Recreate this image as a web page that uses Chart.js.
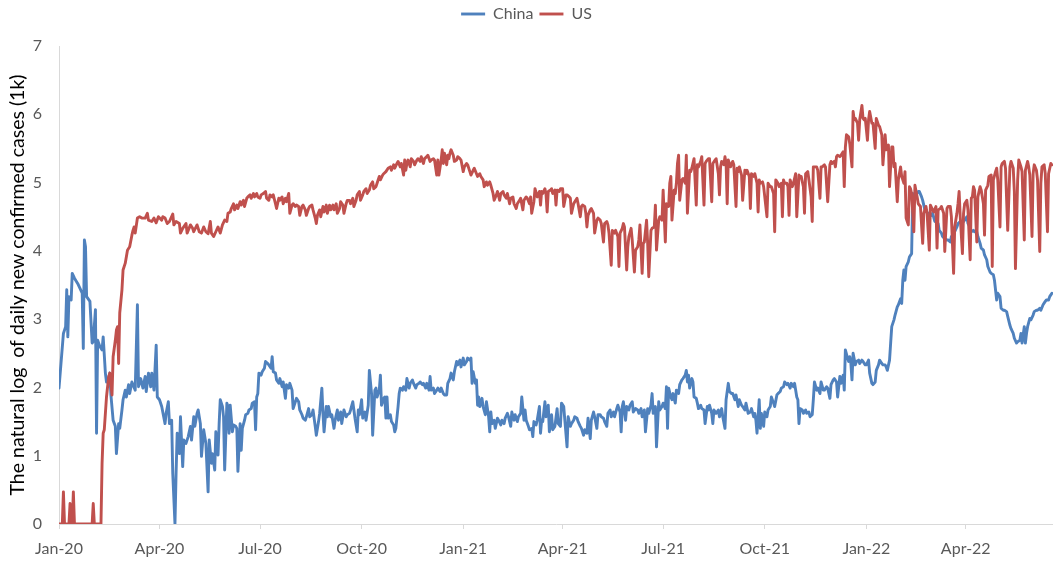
<!DOCTYPE html>
<html>
<head>
<meta charset="utf-8">
<title>China and US daily new confirmed cases (log scale)</title>
<script src="https://cdn.jsdelivr.net/npm/chart.js@4/dist/chart.umd.min.js"></script>
<style>
  html, body { margin: 0; padding: 0; background: #ffffff; }
  #wrap { width: 1053px; height: 561px; position: relative; }
</style>
</head>
<body>
<div id="wrap"><canvas id="chart"></canvas></div>
<script>
// Day index = days since 22 Jan 2020; each entry is [day, ln(daily new cases)].
const china2020 = [[0,1.99],[4,2.79],[6,2.89],[7,3.43],[8,2.74],[9,3.33],[11,3.28],[12,3.67],[14,3.60],[17,3.52],[19,3.45],[21,3.38],[22,2.57],[23,4.16],[24,4.06],[25,3.33],[28,3.26],[30,2.65],[31,2.67],[33,3.14],[34,1.33],[35,2.69],[37,2.60],[39,2.55],[40,2.74],[42,2.21],[43,2.08],[45,2.13],[46,2.21],[47,1.89],[49,1.52],[51,1.43],[52,1.03],[54,1.47],[55,1.40],[57,1.67],[58,1.82],[60,1.96],[61,1.86],[63,2.04],[64,1.91],[66,2.08],[69,1.96],[71,3.21],[72,2.01],[74,2.13],[76,1.99],[78,2.16],[79,1.94],[81,2.21],[83,2.01],[84,2.21],[86,1.96],[88,2.62],[89,1.86],[91,1.82],[93,1.72],[96,1.47],[97,1.62],[99,1.79],[100,1.47],[102,1.52],[103,0.74],[105,0],[106,0.74],[107,1.33],[109,1.03],[110,1.57],[112,0.84],[113,1.23],[115,1.18],[117,1.28],[119,1.43],[120,1.23],[122,1.57],[123,1.43],[125,1.62],[126,1.67],[128,1.47],[129,0.99],[131,1.38],[133,1.18],[135,0.47],[136,1.23],[138,0.89],[139,1.03],[141,0.79],[142,1.35],[144,1.01],[145,1.47],[146,1.82],[148,1.72],[149,1.57],[150,0.79],[152,1.77],[153,1.72],[154,1.33],[155,1.74],[157,1.35],[158,1.45],[160,1.43],[161,1.40],[162,0.77],[164,1.47],[165,1.08],[166,1.40],[168,1.52],[169,1.60],[171,1.62],[172,1.67],[174,1.69],[175,1.77],[177,1.79],[178,1.38],[179,1.86],[180,1.91],[181,2.21],[183,2.18],[184,2.23],[186,2.28],[187,2.38],[189,2.35],[190,2.33],[192,2.28],[193,2.45],[194,2.23],[196,2.21],[197,2.11],[199,2.06],[200,2.13],[202,2.01],[203,2.08],[205,1.84],[206,2.04],[208,1.99],[209,2.06],[211,1.96],[212,1.69],[214,1.79],[215,1.84],[217,1.79],[218,1.67],[220,1.60],[221,1.55],[223,1.52],[224,1.57],[226,1.69],[227,1.57],[229,1.60],[230,1.67],[232,1.43],[233,1.30],[235,1.50],[236,1.62],[238,1.99],[239,1.62],[240,1.35],[242,1.72],[243,1.57],[244,1.72],[246,1.57],[247,1.60],[249,1.40],[250,1.52],[252,1.67],[253,1.52],[255,1.64],[256,1.47],[258,1.67],[260,1.57],[261,1.60],[263,1.62],[264,1.67],[266,1.79],[267,1.67],[268,1.55],[270,1.35],[271,1.67],[272,1.60],[274,1.82],[275,1.55],[277,1.64],[278,1.52],[280,1.74],[281,2.25],[283,1.91],[284,1.30],[286,1.96],[287,1.99],[288,1.86],[290,1.96],[291,2.18],[292,1.74],[294,1.84],[295,1.86],[296,1.55],[297,1.86],[298,1.55],[300,1.60],[301,1.50],[303,1.45],[304,1.35],[305,1.40],[307,1.72],[308,1.91],[309,1.99],[311,1.96],[312,2.01],[314,1.96],[315,2.13],[317,1.99],[318,2.06],[320,2.11],[321,2.06],[323,1.99],[324,2.04],[326,2.06],[327,2.08],[329,2.04],[330,2.06],[332,1.99],[333,2.06],[335,1.96],[336,2.16],[337,1.96],[339,1.99],[340,1.91],[342,1.96],[343,1.99]];
const china2021 = [[345,1.94],[346,1.99],[348,1.91],[349,1.89],[351,1.89],[352,2.06],[354,2.13],[355,2.21],[357,2.11],[358,2.23],[360,2.38],[361,2.33],[363,2.40],[364,2.30],[366,2.43],[367,2.33],[369,2.38],[370,2.43],[372,2.40],[373,2.43],[374,2.06],[375,2.23],[377,2.06],[378,2.11],[379,1.74],[380,1.86],[381,1.72],[383,1.84],[384,1.72],[386,1.60],[387,1.79],[389,1.57],[390,1.35],[391,1.64],[392,1.47],[394,1.52],[395,1.40],[397,1.55],[398,1.52],[400,1.45],[401,1.52],[403,1.47],[404,1.55],[406,1.62],[407,1.57],[409,1.43],[410,1.64],[412,1.52],[413,1.60],[415,1.50],[416,1.57],[418,1.62],[419,1.86],[421,1.52],[422,1.67],[423,1.52],[425,1.43],[426,1.38],[428,1.40],[429,1.28],[430,1.50],[432,1.45],[433,1.52],[435,1.72],[436,1.33],[437,1.52],[438,1.50],[440,1.79],[441,1.57],[443,1.74],[444,1.35],[446,1.60],[447,1.38],[449,1.43],[451,1.69],[452,1.47],[454,1.43],[455,1.77],[457,1.72],[458,1.52],[460,1.13],[461,1.57],[463,1.43],[464,1.47],[466,1.52],[467,1.57],[469,1.55],[470,1.50],[472,1.43],[473,1.40],[475,1.30],[476,1.38],[478,1.33],[479,1.55],[481,1.25],[482,1.52],[484,1.64],[485,1.57],[487,1.40],[488,1.60],[490,1.60],[491,1.57],[493,1.55],[494,1.50],[496,1.43],[497,1.62],[499,1.67],[500,1.57],[502,1.64],[503,1.57],[505,1.69],[506,1.74],[508,1.64],[509,1.35],[510,1.72],[511,1.79],[513,1.52],[514,1.72],[516,1.67],[517,1.74],[519,1.79],[520,1.64],[522,1.69],[524,1.67],[525,1.62],[527,1.69],[528,1.57],[530,1.67],[531,1.35],[533,1.69],[534,1.62],[536,1.74],[537,1.91],[538,1.62],[540,1.72],[541,1.13],[543,1.79],[544,1.67],[546,1.72],[547,1.77],[549,1.69],[550,2.01],[551,1.40],[552,1.99],[554,1.86],[555,1.82],[556,1.91],[558,1.77],[559,1.96],[561,1.91],[562,2.04],[564,2.11],[565,2.13],[567,2.18],[568,2.25],[569,2.08],[570,2.18],[571,1.99],[573,2.13],[574,2.08],[575,1.86],[577,1.84],[578,1.77],[579,1.69],[581,1.74],[582,1.69],[584,1.67],[585,1.47],[587,1.72],[588,1.67],[589,1.74],[591,1.62],[592,1.47],[593,1.67],[595,1.62],[597,1.67],[598,1.57],[600,1.69],[601,1.57],[603,1.40],[604,1.82],[606,2.06],[607,1.94],[609,1.91],[610,1.91],[612,1.82],[613,1.89],[615,1.72],[616,1.82],[618,1.74],[619,1.72],[621,1.67],[622,1.77],[624,1.62],[626,1.64],[627,1.69],[629,1.57],[630,1.62],[631,1.52],[632,1.33],[634,1.82],[635,1.40],[636,1.62],[638,1.43],[639,1.64],[641,1.57],[642,1.67],[644,1.72],[645,1.86],[647,1.77],[648,1.72],[650,1.89],[651,1.91],[653,1.94],[654,1.99],[656,2.01],[657,2.08],[659,2.04],[660,2.06],[662,1.99],[663,2.06],[665,2.01],[666,2.06],[668,1.86],[669,1.82],[670,1.47],[671,1.69],[673,1.67],[674,1.62],[676,1.67],[677,1.62],[679,1.64],[680,1.57],[682,1.60],[683,1.82],[684,2.08],[686,1.96],[687,1.99],[689,1.91],[690,2.08],[692,1.96],[693,1.96],[695,2.01],[696,1.99],[698,1.84],[699,2.04],[701,2.11],[702,2.13],[704,2.08],[705,1.86],[707,2.16],[708,2.06]];
const china2022 = [[710,2.18],[711,1.96],[712,2.55],[714,2.43],[715,2.38],[716,2.45],[717,2.35],[718,2.11],[719,2.50],[721,2.33],[722,2.38],[724,2.40],[725,2.35],[727,2.40],[728,2.38],[730,2.33],[731,2.33],[733,2.40],[734,2.21],[736,2.06],[737,2.04],[739,2.08],[740,2.25],[742,2.33],[743,2.40],[745,2.35],[746,2.33],[748,2.33],[749,2.30],[750,2.25],[752,2.40],[753,2.65],[754,2.89],[756,2.99],[757,3.06],[759,3.18],[760,3.21],[762,3.30],[763,3.23],[764,3.57],[765,3.72],[766,3.57],[767,3.77],[769,3.84],[770,3.91],[772,3.96],[773,4.84],[775,4.82],[776,4.82],[778,4.87],[779,4.87],[781,4.79],[782,4.74],[784,4.60],[785,4.60],[787,4.52],[788,4.55],[790,4.52],[791,4.55],[793,4.43],[794,4.43],[796,4.40],[797,4.30],[799,4.26],[800,4.21],[802,4.18],[804,4.16],[805,4.16],[807,4.13],[808,4.21],[810,4.23],[811,4.28],[813,4.35],[814,4.40],[816,4.43],[817,4.43],[819,4.43],[820,4.45],[822,4.50],[823,4.40],[825,4.35],[826,4.28],[828,4.30],[829,4.28],[831,4.28],[832,4.21],[834,4.11],[835,4.04],[837,4.01],[838,3.94],[840,3.87],[841,3.77],[843,3.69],[844,3.67],[846,3.65],[847,3.57],[849,3.28],[850,3.38],[852,3.33],[853,3.16],[855,3.13],[856,3.13],[858,3.11],[859,3.04],[861,2.91],[862,2.86],[864,2.79],[865,2.72],[867,2.65],[868,2.67],[870,2.69],[871,2.79],[872,2.65],[874,2.89],[875,2.65],[876,2.79],[877,2.89],[879,3.01],[880,2.99],[882,3.06],[883,3.11],[885,3.13],[886,3.13],[888,3.16],[889,3.13],[891,3.21],[893,3.26],[894,3.28],[896,3.28],[897,3.33],[899,3.38]];

const us2020 = [[0,0],[3,0],[4,0.47],[5,0],[9,0],[10,0.30],[11,0],[12,0],[13,0.47],[14,0],[30,0],[31,0.30],[32,0],[38,0],[39,0.89],[40,1.33],[41,1.38],[43,1.86],[45,2.16],[46,2.21],[48,1.89],[49,2.45],[51,2.69],[52,2.84],[53,2.89],[54,2.35],[55,3.09],[57,3.43],[58,3.72],[60,3.82],[62,4.01],[64,4.06],[66,4.23],[67,4.30],[68,4.35],[69,4.26],[71,4.48],[73,4.50],[75,4.48],[78,4.48],[80,4.55],[81,4.45],[84,4.43],[86,4.48],[88,4.41],[90,4.50],[93,4.45],[94,4.50],[96,4.48],[98,4.40],[100,4.43],[103,4.54],[104,4.38],[106,4.43],[109,4.40],[110,4.26],[112,4.33],[115,4.40],[116,4.26],[119,4.38],[121,4.33],[122,4.28],[125,4.38],[127,4.28],[129,4.26],[131,4.35],[133,4.28],[135,4.25],[137,4.43],[138,4.26],[140,4.21],[142,4.28],[144,4.35],[146,4.26],[148,4.38],[150,4.45],[152,4.43],[153,4.55],[155,4.57],[156,4.62],[158,4.69],[159,4.60],[161,4.67],[162,4.62],[164,4.72],[165,4.67],[167,4.74],[168,4.65],[170,4.77],[171,4.79],[173,4.82],[174,4.77],[176,4.84],[177,4.79],[179,4.84],[180,4.79],[182,4.77],[183,4.82],[185,4.84],[187,4.87],[188,4.77],[190,4.74],[191,4.82],[193,4.79],[194,4.82],[196,4.69],[197,4.62],[199,4.77],[200,4.74],[202,4.79],[203,4.69],[205,4.77],[206,4.72],[208,4.84],[209,4.55],[211,4.67],[212,4.69],[214,4.65],[215,4.67],[217,4.65],[218,4.52],[220,4.65],[221,4.67],[223,4.60],[224,4.52],[226,4.62],[227,4.65],[229,4.67],[230,4.60],[232,4.48],[233,4.40],[234,4.52],[236,4.60],[237,4.50],[239,4.65],[240,4.57],[242,4.67],[243,4.55],[245,4.67],[246,4.60],[248,4.67],[249,4.60],[251,4.69],[252,4.55],[254,4.62],[255,4.72],[257,4.67],[258,4.55],[260,4.69],[261,4.74],[263,4.74],[264,4.69],[266,4.77],[267,4.65],[269,4.74],[270,4.82],[272,4.87],[273,4.74],[275,4.82],[276,4.87],[278,4.91],[279,4.84],[281,4.89],[282,4.96],[284,5.01],[285,4.91],[287,4.94],[288,4.99],[290,5.09],[291,5.04],[293,5.11],[294,5.13],[296,5.16],[298,5.21],[300,5.23],[301,5.18],[303,5.26],[304,5.21],[306,5.28],[307,5.31],[309,5.23],[310,5.28],[312,5.11],[313,5.33],[314,5.18],[315,5.28],[316,5.33],[318,5.23],[319,5.35],[321,5.31],[322,5.26],[324,5.33],[325,5.35],[327,5.31],[328,5.38],[330,5.28],[331,5.35],[333,5.38],[334,5.40],[336,5.31],[337,5.33],[339,5.35],[340,5.33],[342,5.11],[343,5.33],[344,5.11]];
const us2021 = [[346,5.33],[347,5.48],[348,5.28],[349,5.43],[351,5.26],[352,5.40],[353,5.35],[354,5.43],[355,5.48],[357,5.40],[358,5.31],[360,5.33],[361,5.38],[363,5.35],[364,5.33],[366,5.16],[367,5.23],[369,5.28],[370,5.26],[372,5.16],[373,5.11],[375,5.18],[376,5.21],[378,5.13],[379,5.09],[381,5.13],[382,5.09],[384,5.04],[385,4.94],[387,5.01],[388,4.96],[390,5.01],[391,4.96],[393,4.84],[394,4.74],[396,4.82],[397,4.87],[399,4.74],[400,4.84],[402,4.87],[403,4.82],[405,4.77],[406,4.84],[408,4.69],[409,4.77],[411,4.79],[412,4.69],[414,4.62],[415,4.69],[417,4.74],[418,4.77],[420,4.60],[421,4.74],[423,4.79],[424,4.77],[426,4.69],[427,4.79],[428,4.55],[430,4.72],[431,4.91],[433,4.79],[435,4.87],[436,4.67],[437,4.87],[438,4.84],[440,4.91],[441,4.82],[442,4.57],[443,4.87],[445,4.89],[446,4.91],[447,4.84],[449,4.89],[450,4.67],[451,4.89],[453,4.87],[454,4.91],[456,4.91],[457,4.65],[459,4.82],[460,4.82],[462,4.79],[463,4.77],[464,4.55],[466,4.69],[467,4.72],[469,4.77],[470,4.69],[472,4.50],[473,4.65],[474,4.67],[476,4.65],[477,4.55],[478,4.35],[479,4.52],[481,4.60],[482,4.62],[484,4.55],[485,4.26],[487,4.45],[488,4.48],[490,4.45],[491,4.40],[493,4.13],[494,4.40],[496,4.43],[497,4.38],[498,4.26],[500,3.79],[501,4.30],[503,4.26],[504,4.30],[506,4.21],[507,3.77],[508,4.26],[510,4.33],[511,4.40],[512,4.35],[514,3.72],[515,4.06],[516,4.21],[518,4.33],[519,4.16],[521,3.69],[522,4.01],[524,4.06],[525,4.16],[526,4.38],[528,3.67],[529,4.11],[530,4.13],[532,4.45],[533,4.11],[534,3.62],[536,4.30],[537,4.33],[539,4.35],[540,4.67],[541,4.01],[543,4.45],[544,4.50],[546,4.45],[547,4.89],[549,4.13],[550,4.69],[552,4.65],[553,4.99],[554,5.09],[555,4.45],[557,4.89],[558,4.84],[559,4.99],[560,5.28],[561,5.40],[562,4.74],[564,5.04],[565,5.06],[567,4.99],[568,5.40],[569,4.55],[571,5.18],[572,5.16],[573,5.21],[575,5.35],[577,4.67],[578,5.26],[579,5.23],[581,5.31],[582,5.38],[584,4.67],[585,5.28],[586,5.31],[588,5.35],[589,5.35],[591,4.72],[592,5.28],[594,5.33],[595,5.35],[597,5.13],[598,4.82],[599,5.23],[600,5.31],[602,5.26],[603,5.38],[604,5.28],[605,4.69],[606,5.33],[608,5.23],[610,5.31],[611,5.26],[613,4.65],[614,5.21],[615,5.16],[616,5.23],[618,5.11],[619,4.74],[621,5.18],[622,5.13],[623,5.18],[625,5.09],[626,4.62],[627,5.13],[629,5.09],[630,5.13],[632,4.99],[633,4.57],[634,5.04],[635,4.99],[637,5.01],[638,4.94],[641,4.50],[642,4.99],[644,4.94],[645,4.94],[647,4.84],[648,4.28],[649,5.04],[651,4.99],[652,4.94],[654,4.99],[655,4.50],[656,5.04],[657,4.99],[659,4.99],[660,4.94],[661,4.52],[662,5.04],[664,4.94],[665,4.99],[667,5.13],[668,4.50],[670,5.11],[671,5.09],[672,5.09],[674,4.94],[675,4.55],[676,5.13],[678,5.16],[679,5.04],[681,4.79],[682,4.43],[683,5.23],[684,5.23],[686,5.23],[687,5.18],[689,4.77],[690,5.23],[691,5.23],[693,5.26],[694,5.23],[696,4.72],[698,5.26],[699,5.31],[700,5.28],[702,5.31],[703,5.23],[704,5.38],[705,5.40],[707,5.38],[708,5.40]];
const us2022 = [[710,5.45],[711,4.94],[712,5.52],[713,5.70],[715,5.67],[716,5.57],[718,5.23],[719,6.04],[720,5.92],[721,5.94],[723,5.87],[724,5.62],[725,5.92],[727,6.13],[728,5.94],[729,5.92],[730,5.94],[732,5.62],[733,5.92],[734,6.04],[736,5.87],[737,5.87],[739,5.50],[740,5.94],[742,5.84],[743,5.82],[745,5.70],[746,5.26],[748,5.70],[749,5.48],[751,5.55],[752,4.94],[754,5.52],[755,5.52],[756,5.23],[757,5.28],[759,4.72],[760,5.04],[762,5.23],[763,5.09],[765,4.99],[766,5.16],[767,4.48],[769,4.38],[770,4.94],[771,4.91],[772,4.84],[774,4.28],[775,4.96],[777,4.79],[778,4.69],[780,4.65],[782,4.11],[783,4.55],[785,4.65],[786,4.55],[788,4.01],[789,4.67],[791,4.60],[792,4.57],[794,4.65],[795,4.04],[796,4.60],[798,4.62],[799,4.65],[801,4.55],[802,3.99],[804,4.62],[805,4.65],[807,4.65],[808,4.50],[810,3.67],[811,4.35],[813,4.55],[814,4.69],[815,4.87],[816,4.50],[818,3.96],[819,4.55],[820,4.69],[822,4.74],[823,4.60],[825,3.87],[826,4.77],[827,4.79],[828,4.94],[829,4.89],[831,4.13],[832,4.79],[834,4.94],[835,4.89],[837,4.69],[838,4.23],[839,4.89],[841,4.96],[842,5.09],[844,5.11],[845,3.77],[846,5.04],[848,5.16],[849,5.21],[850,5.04],[852,4.35],[853,5.23],[854,5.28],[856,5.31],[857,5.21],[859,4.30],[861,5.23],[862,5.31],[864,5.21],[865,4.87],[866,3.74],[868,5.04],[869,5.33],[871,5.23],[872,5.16],[874,4.16],[875,5.18],[877,5.31],[878,5.23],[879,5.11],[881,4.21],[882,5.13],[883,5.26],[885,5.18],[886,5.04],[888,3.99],[889,4.99],[890,5.23],[892,5.26],[893,5.13],[895,4.28],[896,5.13],[898,5.28],[899,5.26]];

// Quarterly date ticks (day index) and their labels
const tickDays = [0, 91, 182, 274, 366, 456, 547, 639, 731, 821];
const tickLabels = ['Jan-20', 'Apr-20', 'Jul-20', 'Oct-20', 'Jan-21', 'Apr-21', 'Jul-21', 'Oct-21', 'Jan-22', 'Apr-22'];

const toPoints = (rows) => rows.map(([d, v]) => ({ x: d, y: v }));
const chinaPoints = toPoints([...china2020, ...china2021, ...china2022]);
const usPoints = toPoints([...us2020, ...us2021, ...us2022]);

const FONT = 'Lato, "Noto Sans", sans-serif';
const AXIS_GREY = '#D9D9D9';
const TEXT_GREY = '#595959';

// Extra space between the legend row and the plot area
const legendGap = {
  id: 'legendGap',
  beforeInit(chart) {
    const origFit = chart.legend.fit;
    chart.legend.fit = function () {
      origFit.call(this);
      this.height += 14;
    };
  }
};

new Chart(document.getElementById('chart'), {
  type: 'line',
  data: {
    datasets: [
      {
        label: 'China',
        data: chinaPoints,
        borderColor: '#4F81BD',
        backgroundColor: '#4F81BD',
        borderWidth: 2.9,
        pointRadius: 0,
        tension: 0,
        borderJoinStyle: 'round',
        borderCapStyle: 'round',
        order: 1
      },
      {
        label: 'US',
        data: usPoints,
        borderColor: '#C0504D',
        backgroundColor: '#C0504D',
        borderWidth: 2.9,
        pointRadius: 0,
        tension: 0,
        borderJoinStyle: 'round',
        borderCapStyle: 'round',
        order: 0
      }
    ]
  },
  options: {
    responsive: true,
    maintainAspectRatio: false,
    animation: false,
    devicePixelRatio: 1,
    layout: { padding: { left: 0, right: 0, top: 0, bottom: 0 } },
    plugins: {
      tooltip: { enabled: false },
      legend: {
        position: 'top',
        labels: {
          usePointStyle: true,
          pointStyle: 'line',
          pointStyleWidth: 24,
          padding: 6,
          color: TEXT_GREY,
          font: { family: FONT, size: 16 },
          sort: (a, b) => a.datasetIndex - b.datasetIndex
        }
      }
    },
    scales: {
      x: {
        type: 'linear',
        min: 0,
        max: 900,
        grid: { display: true, drawOnChartArea: false, drawTicks: true, tickLength: 5, color: AXIS_GREY },
        border: { display: true, color: AXIS_GREY, width: 1 },
        afterBuildTicks: (scale) => { scale.ticks = tickDays.map(v => ({ value: v })); },
        afterFit: (scale) => { scale.height = 37; },
        ticks: {
          autoSkip: false,
          maxRotation: 0,
          padding: 10,
          color: TEXT_GREY,
          font: { family: FONT, size: 16 },
          callback: (value) => {
            const i = tickDays.indexOf(value);
            return i >= 0 ? tickLabels[i] : '';
          }
        }
      },
      y: {
        min: 0,
        max: 7,
        grid: { display: true, drawOnChartArea: false, drawTicks: false, color: AXIS_GREY },
        border: { display: true, color: AXIS_GREY, width: 1 },
        afterFit: (scale) => { scale.width = 59; },
        ticks: {
          stepSize: 1,
          padding: 17,
          color: TEXT_GREY,
          font: { family: FONT, size: 16 }
        },
        title: {
          display: true,
          text: 'The natural log  of daily new confirmed cases (1k)',
          color: '#000000',
          font: { family: FONT, size: 19.5 },
          padding: { top: 6, bottom: 0 }
        }
      }
    }
  },
  plugins: [legendGap]
});
</script>
</body>
</html>
